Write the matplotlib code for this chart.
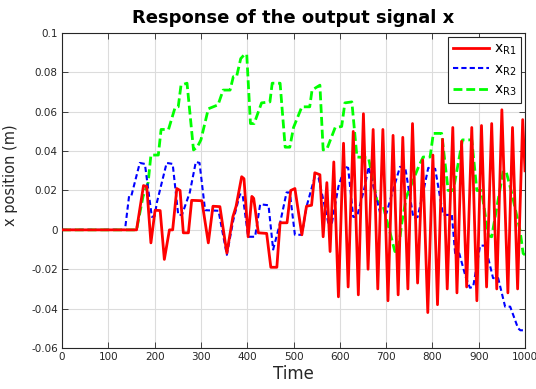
import numpy as np
import matplotlib
matplotlib.use("Agg")
import matplotlib.pyplot as plt

plt.rcParams['font.family'] = ['DejaVu Sans']

# ---- Signal samples (time, x position) ----
t_r1 = [0, 161, 176, 183, 192, 201, 212, 221, 232, 239, 248, 255, 262, 273, 280, 302,
        316, 326, 341, 356, 369, 376, 388, 393, 402, 410, 414, 424, 442, 451, 464, 471,
        486, 494, 503, 518, 528, 539, 546, 557, 564, 572, 579, 587, 597, 608, 618, 629,
        640, 651, 661, 672, 682, 693, 704, 715, 726, 736, 747, 757, 768, 779, 790, 801,
        811, 822, 832, 844, 853, 863, 874, 885, 896, 906, 917, 928, 939, 950, 963, 973,
        984, 995, 1000]
x_r1 = [0, 0, 0.0225, 0.022, -0.0066, 0.010, 0.0098, -0.015, 0.0, 0.0, 0.021, 0.020,
        -0.0015, -0.0015, 0.015, 0.0148, -0.0066, 0.012, 0.0118, -0.0118, 0.0066, 0.012,
        0.027, 0.026, -0.0035, 0.017, 0.016, -0.0015, -0.0018, -0.019, -0.019, 0.0036,
        0.0036, 0.020, 0.021, -0.0025, 0.012, 0.0125, 0.029, 0.028, -0.0035, 0.024,
        -0.011, 0.0345, -0.034, 0.044, -0.029, 0.050, -0.033, 0.059, -0.020, 0.051,
        -0.030, 0.051, -0.036, 0.048, -0.033, 0.047, -0.030, 0.054, -0.027, 0.0355,
        -0.042, 0.038, -0.038, 0.046, -0.030, 0.052, -0.032, 0.045, -0.029, 0.052,
        -0.036, 0.053, -0.029, 0.054, -0.030, 0.061, -0.032, 0.052, -0.030, 0.056, 0.030]

t_r2 = [0, 136, 145, 150, 168, 179, 194, 200, 205, 226, 239, 251, 259, 276, 289, 297,
        309, 338, 356, 370, 384, 390, 402, 417, 428, 446, 456, 471, 485, 492, 503, 518,
        528, 546, 554, 575, 583, 597, 611, 618, 629, 637, 654, 662, 676, 687, 701, 712,
        730, 741, 759, 768, 780, 791, 806, 823, 842, 849, 858, 872, 881, 888, 903, 914,
        931, 942, 957, 968, 985, 990, 1000]
x_r2 = [0, 0, 0.0175, 0.0175, 0.034, 0.0335, 0.0066, 0.007, 0.014, 0.034, 0.0335,
        0.0076, 0.0076, 0.019, 0.0345, 0.034, 0.010, 0.0097, -0.0127, 0.005, 0.018,
        0.018, -0.0035, -0.0035, 0.013, 0.0125, -0.010, 0.0035, 0.019, 0.019, -0.0025,
        -0.0025, 0.0117, 0.027, 0.0265, 0.0036, 0.0036, 0.022, 0.032, 0.0315, 0.0066,
        0.0066, 0.022, 0.032, 0.019, 0.0086, 0.0086, 0.0178, 0.032, 0.032, 0.006,
        0.0065, 0.019, 0.0315, 0.031, 0.0076, 0.0076, -0.0118, -0.012, -0.024, -0.0294,
        -0.029, -0.008, -0.008, -0.0245, -0.0245, -0.039, -0.039, -0.050, -0.051, -0.051]

t_r3 = [0, 161, 175, 186, 192, 208, 214, 230, 244, 251, 257, 270, 284, 292, 300, 316,
        337, 348, 363, 370, 377, 386, 395, 399, 407, 415, 431, 449, 454, 471, 482, 492,
        500, 518, 535, 540, 557, 564, 572, 590, 604, 611, 626, 637, 662, 680, 694, 719,
        726, 734, 744, 770, 780, 795, 802, 820, 834, 845, 865, 885, 896, 906, 921, 928,
        953, 960, 971, 989, 996, 1000]
x_r3 = [0, 0, 0.017, 0.024, 0.038, 0.038, 0.051, 0.051, 0.062, 0.0625, 0.0735, 0.0745,
        0.0406, 0.042, 0.0457, 0.0615, 0.0635, 0.071, 0.071, 0.0778, 0.0778, 0.087,
        0.0893, 0.089, 0.054, 0.054, 0.0645, 0.065, 0.0745, 0.0745, 0.042, 0.042, 0.052,
        0.0625, 0.0625, 0.071, 0.0735, 0.0406, 0.041, 0.052, 0.0525, 0.0645, 0.065,
        0.037, 0.0366, 0.015, 0.0118, -0.011, -0.011, 0.0036, 0.017, 0.032, 0.037,
        0.037, 0.049, 0.049, 0.020, 0.020, 0.0457, 0.0457, 0.020, 0.020, -0.003,
        -0.0035, 0.030, 0.029, 0.019, 0.0, -0.012, -0.0127]

x_ticks = np.arange(0, 1001, 100)
y_ticks = [-0.06, -0.04, -0.02, 0, 0.02, 0.04, 0.06, 0.08, 0.1]
y_ticklabels = ['-0.06', '-0.04', '-0.02', '0', '0.02', '0.04', '0.06', '0.08', '0.1']

# ---- Plot ----
fig = plt.figure(figsize=(5.36, 3.89), dpi=100)
ax = fig.add_axes([0.1157, 0.1054, 0.8638, 0.8098])

ax.plot(t_r1, x_r1, color='red', lw=2.0, label=r'$\mathregular{x_{R1}}$', zorder=3)
ax.plot(t_r2, x_r2, color='blue', lw=1.5, dashes=(2.5, 1.5),
        label=r'$\mathregular{x_{R2}}$', zorder=2)
ax.plot(t_r3, x_r3, color='#00ff00', lw=2.0, dashes=(3.2, 1.4),
        label=r'$\mathregular{x_{R3}}$', zorder=1)

ax.set_xlim(0, 1000)
ax.set_ylim(-0.06, 0.1)
ax.set_xticks(x_ticks)
ax.set_yticks(y_ticks)
ax.set_yticklabels(y_ticklabels)
ax.tick_params(direction='in', top=True, right=True, labelsize=7.5,
               colors='#262626', length=4, width=0.6, pad=3)
ax.grid(True, color='#dcdcdc', lw=0.8)
ax.set_axisbelow(True)
for s in ax.spines.values():
    s.set_color('#262626')
    s.set_linewidth(0.8)

ax.set_title('Response of the output signal x', fontsize=13, fontweight='bold', pad=7)
ax.set_xlabel('Time', fontsize=12, color='#262626', labelpad=2)
ax.set_ylabel('x position (m)', fontsize=10.5, color='#262626', labelpad=6)
ax.yaxis.set_label_coords(-0.095, 0.55)

leg = ax.legend(loc='upper right', fontsize=10, frameon=True, fancybox=False,
                edgecolor='#262626', framealpha=1, borderaxespad=0.3,
                handlelength=2.6, handletextpad=0.3, labelspacing=0.35,
                borderpad=0.35)
leg.get_frame().set_linewidth(0.8)

fig.savefig('out.png', dpi=100)
